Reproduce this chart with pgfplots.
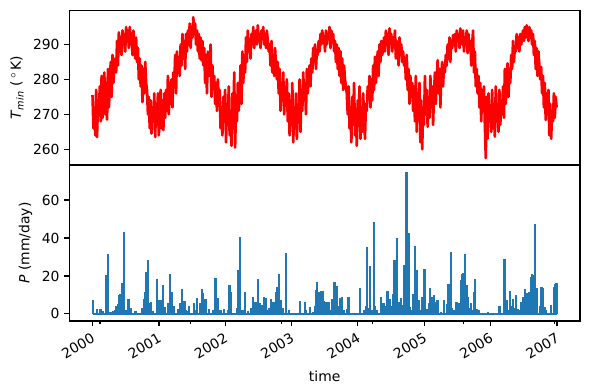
\documentclass[border=0pt]{standalone}
\usepackage{fontspec}
\setmainfont{DejaVu Sans}
\usepackage{pgfplots}
\pgfplotsset{compat=1.18}
\definecolor{mplblue}{HTML}{1F77B4}
\begin{document}
\begin{tikzpicture}[font=\fontsize{10bp}{12bp}\selectfont]
\useasboundingbox (0,0) rectangle (424.8bp,280.8bp);
\pgfplotsset{
  every axis/.append style={
    scale only axis, width=367.7bp,
    xmin=-127.8, xmax=2683.8,
    axis line style={line width=0.8bp},
    tick align=outside, tick pos=left,
    major tick length=3.5bp, minor tick length=2bp,
    every tick/.style={black, line width=0.8bp},
    /pgf/number format/assume math mode=true,
    clip=true,
  }
}
\begin{axis}[at={(49.9bp,162bp)}, anchor=south west, height=111.4bp,
  ymin=255.5, ymax=299.8, ytick={260,270,280,290}, xtick=\empty,
  ylabel={\textit{T}\textsubscript{\textit{min}} (\,$^\circ$\,K)}]
\addplot[red, line width=1.9bp, line join=round] coordinates {
(0,275.5)(5,266)(10,272)(15,264)(20,277)(25,263.5)(30,274)(35,270)(40,278)(45,268)
(50,281)(55,269)(60,276)(65,282)(70,270)(75,279)(80,268.5)(85,283)(90,272)(95,277)
(100,285)(105,275)(110,287)(115,279)(120,284)(125,286)(130,282)(135,291)(140,284)(145,293.5)
(150,288)(155,292)(160,287)(165,294)(170,290)(175,293)(180,288)(185,295)(190,291)(195,294)
(200,289)(205,295)(210,292)(215,293)(220,287)(225,294)(230,290)(235,286)(240,292)(245,285)
(250,289)(255,280)(260,286)(265,278)(270,284)(275,273.5)(280,283)(285,276)(290,285)(295,279)
(300,277)(305,270)(310,275)(315,266)(320,274)(325,264.5)(330,272)(335,268)(340,276)(345,263.5)
(350,273)(355,267)(360,276)(365,264)(370,271)(375,277)(380,266)(385,274)(390,265.5)(395,276)
(400,269)(405,277)(410,271)(415,281)(420,270)(425,279)(430,273)(435,280)(440,272)(445,282)
(450,278)(455,287)(460,276)(465,288)(470,282)(475,285)(480,281)(485,290)(490,284)(495,293)
(500,286)(505,291)(510,283)(515,293)(520,288)(525,294)(530,290)(535,296)(540,289)(545,295)
(550,292)(555,297.8)(560,293)(565,296)(570,290)(575,294)(580,288)(585,293)(590,286)(595,292)
(600,285.5)(605,291)(610,284)(615,289)(620,279)(625,287)(630,276)(635,288)(640,281)(645,283)
(650,290)(655,275)(660,284)(665,278)(670,281)(675,273)(680,279)(685,271)(690,280)(695,274)
(700,277)(705,266)(710,272)(715,264)(720,275)(725,269)(730,277)(735,262)(740,273)(745,267)
(750,278)(755,264)(760,270)(765,261)(770,276)(775,266)(780,282)(785,260.5)(790,272)(795,268)
(800,279)(805,271)(810,276)(815,284)(820,273)(825,288)(830,279)(835,286)(840,282)(845,292)
(850,285)(855,294)(860,289)(865,291)(870,286)(875,293)(880,290)(885,295)(890,289)(895,292)
(900,294)(905,290)(910,295.5)(915,291)(920,293)(925,289)(930,294)(935,292)(940,295)(945,290)
(950,293)(955,289)(960,294)(965,291)(970,288)(975,290)(980,284)(985,291)(990,282)(995,287)
(1000,281)(1005,289)(1010,284)(1015,280)(1020,285)(1025,276)(1030,283)(1035,271)(1040,279)(1045,274)
(1050,282)(1055,270)(1060,277)(1065,275)(1070,280)(1075,268)(1080,276)(1085,264)(1090,274)(1095,267)
(1100,279)(1105,262)(1110,271)(1115,266)(1120,276)(1125,263)(1130,270)(1135,268)(1140,280)(1145,265)
(1150,277)(1155,271)(1160,282)(1165,274)(1170,279)(1175,270)(1180,283)(1185,276)(1190,280)(1195,284)
(1200,278)(1205,286)(1210,282)(1215,289)(1220,285)(1225,290)(1230,283)(1235,288)(1240,287)(1245,291)
(1250,288)(1255,293)(1260,290)(1265,294)(1270,291)(1275,292)(1280,288)(1285,294)(1290,290)(1295,293)
(1300,292)(1305,295)(1310,289)(1315,294)(1320,291)(1325,293)(1330,288)(1335,291)(1340,285)(1345,290)
(1350,283)(1355,289)(1360,281)(1365,288)(1370,279)(1375,286)(1380,277)(1385,284)(1390,280)(1395,278)
(1400,276)(1405,270)(1410,278)(1415,266)(1420,272)(1425,262)(1430,275)(1435,268)(1440,279)(1445,264)
(1450,270)(1455,261)(1460,274)(1465,267)(1470,278)(1475,263)(1480,272)(1485,265)(1490,276)(1495,269)
(1500,263)(1505,273)(1510,271)(1515,278)(1520,275)(1525,281)(1530,272)(1535,280)(1540,274)(1545,284)
(1550,277)(1555,286.5)(1560,279)(1565,283)(1570,288)(1575,281)(1580,290)(1585,285)(1590,291)(1595,287)
(1600,289)(1605,292)(1610,288)(1615,294)(1620,290)(1625,293)(1630,287)(1635,294.6)(1640,291)(1645,293)
(1650,288)(1655,292)(1660,290)(1665,294)(1670,286)(1675,291)(1680,289)(1685,284)(1690,292)(1695,287)
(1700,290)(1705,285)(1710,288)(1715,284)(1720,286)(1725,280)(1730,287)(1735,277)(1740,283)(1745,273)
(1750,281)(1755,275)(1760,279)(1765,271)(1770,278)(1775,268)(1780,281)(1785,265)(1790,276)(1795,270)
(1800,279)(1805,262)(1810,274)(1815,260)(1820,272)(1825,267)(1830,281)(1835,270)(1840,277)(1845,266.5)
(1850,275)(1855,269)(1860,281)(1865,272)(1870,278)(1875,267)(1880,276)(1885,282)(1890,273)(1895,280)
(1900,285.5)(1905,276)(1910,283)(1915,272)(1920,281)(1925,285)(1930,278)(1935,284)(1940,282)(1945,287)
(1950,284)(1955,290)(1960,286)(1965,292)(1970,285)(1975,291)(1980,289)(1985,292.7)(1990,290)(1995,293)
(2000,288)(2005,294)(2010,291)(2015,293)(2020,289)(2025,294.6)(2030,292)(2035,290)(2040,294)(2045,288)
(2050,292)(2055,290)(2060,294)(2065,287.5)(2070,293)(2075,289)(2080,291)(2085,284)(2090,290)(2095,294)
(2100,282)(2105,288)(2110,278)(2115,283)(2120,276)(2125,281)(2130,272)(2135,279)(2140,268)(2145,277)
(2150,271)(2155,278)(2160,267)(2165,257.5)(2170,275)(2175,263)(2180,276)(2185,268)(2190,272)(2195,265)
(2200,277)(2205,266)(2210,271)(2215,263.6)(2220,278)(2225,268)(2230,272)(2235,265)(2240,277)(2245,267)
(2250,274)(2255,270)(2260,278)(2265,269)(2270,283)(2275,273)(2280,280)(2285,284.6)(2290,275)(2295,282)
(2300,279)(2305,287)(2310,283)(2315,291)(2320,285)(2325,289)(2330,288)(2335,293)(2340,289)(2345,292)
(2350,288)(2355,293)(2360,290)(2365,292)(2370,294)(2375,291)(2380,295)(2385,292)(2390,295.5)(2395,293)
(2400,291)(2405,295)(2410,292)(2415,294)(2420,290)(2425,293)(2430,287)(2435,291)(2440,283)(2445,289)
(2450,281)(2455,288)(2460,284)(2465,280)(2470,283.6)(2475,276)(2480,281)(2485,272)(2490,279)(2495,268.4)
(2500,276)(2505,270)(2510,277)(2515,264)(2520,273)(2525,263)(2530,271)(2535,268)(2540,276)(2545,269)
(2550,275)(2555,272)
};
\end{axis}
\begin{axis}[at={(49.9bp,49.7bp)}, anchor=south west, height=112.3bp,
  ymin=-3.7, ymax=78.4, ytick={0,20,40,60},
  xtick={0,366,731,1096,1461,1827,2192,2557},
  xticklabels={2000,2001,2002,2003,2004,2005,2006,2007},
  minor xtick={41,541,1041,1541,2041,2541},
  xticklabel style={rotate=30, anchor=north east},
  xlabel={time}, ylabel={\textit{P} (mm/day)}]
\addplot[mplblue, line width=1.5bp] coordinates {(0,0)(2556,0)};
\addplot[mplblue, line width=1.7bp, ycomb] coordinates {
(2,7.4)(25,2.4)(43,2.8)(58,1.6)(74,20.5)(78,6)(85,31.4)(98,1.2)(113,1.8)(125,2)(131,4.4)(140,5)(146,10)(150,8)(153,10.4)(158,6)(163,16.2)(168,3)(174,43.3)(185,2.1)(198,7.9)(204,3)(212,3.3)(236,1.6)(273,3.3)(282,5.1)(286,8)(290,11.8)(294,15)(297,22)(300,12)(304,28.4)(308,4)(312,5.6)(321,6.5)(334,1.6)(354,18.4)(360,3)(367,7.4)(374,7.4)(384,3)(389,15.3)(398,3.8)(415,6)(420,3)(426,20.9)(431,5)(437,11.8)(448,4.4)(470,2.4)(481,5.6)(487,3)(492,13.1)(507,6.8)(512,2)(518,1.6)(532,4.4)(558,5.6)(566,2)(576,8.2)(591,5.6)(597,3)(604,13.1)(609,10.8)(614,4)(622,7.9)(641,2.4)(665,2.1)(678,19.1)(685,4)(690,8.2)(705,2.1)(724,2.4)(746,2.1)(755,15)(760,4)(764,11.8)(795,3)(801,23.3)(806,8)(812,40.7)(818,2)(826,2.1)(841,11.4)(856,1.6)(874,3)(880,2)(885,9)(890,3)(898,6.1)(905,2)(911,18.2)(916,3)(922,5.6)(933,4.8)(938,3)(944,9)(950,2)(955,8.6)(966,2.1)(975,3)(981,7.9)(990,2)(996,6.1)(1003,3)(1009,11.8)(1014,5)(1018,14.4)(1023,6)(1027,20.9)(1032,4)(1036,7.4)(1045,3)(1064,31.9)(1080,2.1)(1141,6.8)(1169,6.1)(1176,2.1)(1198,3.8)(1213,1.2)(1226,4)(1231,12.6)(1234,6)(1237,16.8)(1242,5)(1246,11.8)(1252,6)(1257,12.1)(1262,5)(1266,12.2)(1275,7)(1280,3)(1288,6.4)(1293,3)(1299,6.4)(1312,2)(1318,8.1)(1325,3)(1332,16.9)(1337,6)(1343,14.6)(1350,4)(1362,8.5)(1368,3)(1373,8.7)(1386,2.3)(1400,2.8)(1409,9)(1472,13.4)(1496,2)(1506,4)(1511,35.3)(1520,3)(1529,25.2)(1535,2)(1551,48.5)(1556,4)(1564,2.3)(1588,9)(1597,5.5)(1606,5.8)(1612,2)(1618,4)(1624,12.2)(1630,3)(1637,8.1)(1648,4.1)(1652,3)(1656,10.7)(1663,28.3)(1668,5)(1676,40.2)(1682,4)(1689,6.4)(1695,3)(1700,8.5)(1707,4.6)(1712,3)(1718,25.6)(1723,6)(1728,74.8)(1734,8)(1739,42.7)(1744,5)(1748,3.7)(1756,2)(1763,10.7)(1770,4)(1777,35.9)(1782,6)(1787,23)(1793,3)(1799,7.2)(1806,2)(1814,8.7)(1820,3)(1827,23.9)(1833,2)(1840,2.8)(1851,5.5)(1858,13.4)(1862,4)(1866,9)(1872,3)(1879,9.9)(1888,6.4)(1893,2)(1899,7.2)(1919,1.2)(1936,7.2)(1950,2)(1955,5)(1958,16)(1962,8)(1965,16)(1970,6)(1973,32.7)(1980,3)(1987,2.3)(2004,6.4)(2010,3)(2016,5.8)(2022,4)(2028,17.8)(2032,8)(2035,20.9)(2039,10)(2042,21.3)(2046,12)(2050,31.3)(2055,8)(2061,15.1)(2065,5)(2068,9)(2075,3)(2083,5.8)(2094,2.3)(2099,11.6)(2103,5)(2107,18.5)(2116,2.8)(2125,2.3)(2177,1.2)(2241,4.1)(2269,28.7)(2276,3)(2282,7.2)(2290,2)(2300,12.2)(2306,4)(2315,8.1)(2322,3)(2330,10.2)(2343,2.8)(2352,2)(2361,6.4)(2366,4)(2370,9)(2376,5)(2381,12.9)(2387,6)(2392,11.2)(2398,5)(2403,11.6)(2409,8)(2414,19.6)(2418,10)(2421,20.9)(2425,12)(2429,20.4)(2436,47.3)(2440,8)(2445,13.4)(2458,0.7)(2466,4)(2471,14.3)(2476,6)(2480,13.4)(2489,3.7)(2498,2)(2524,4.6)(2539,14.3)(2544,6)(2548,16)(2553,8)(2555,16.4)
};
\end{axis}
\end{tikzpicture}
\end{document}
